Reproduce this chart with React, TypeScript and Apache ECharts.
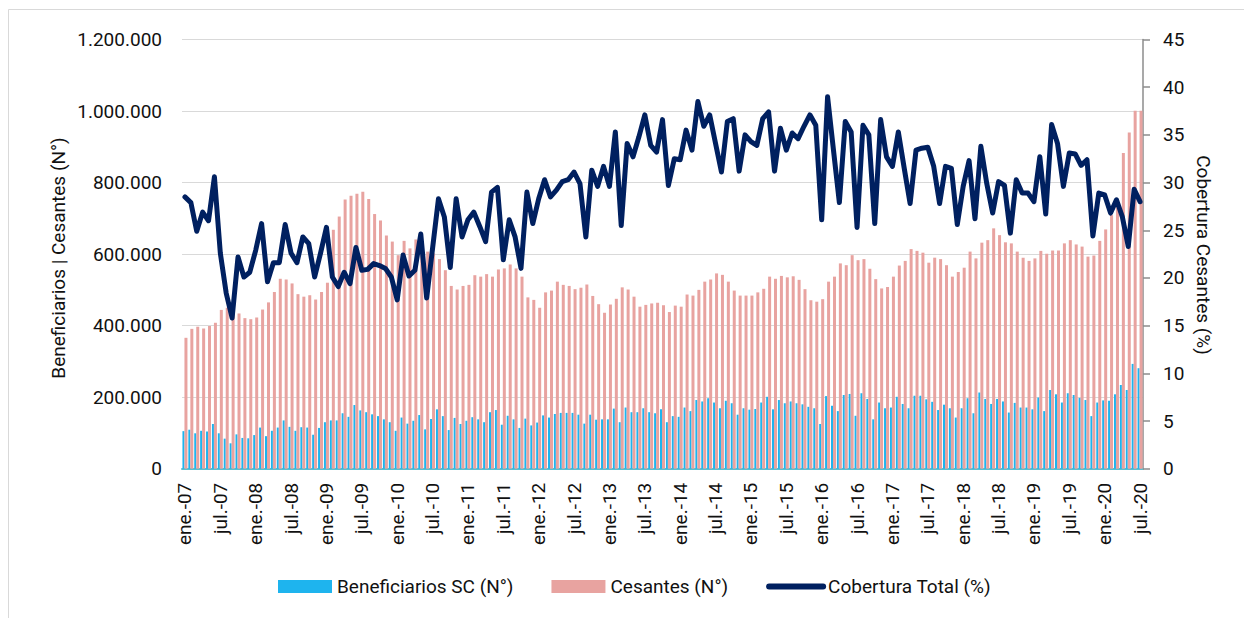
import React, { useEffect, useRef } from "react";
import * as echarts from "echarts";

const MONTHS = ["ene.", "feb.", "mar.", "abr.", "may.", "jun.", "jul.", "ago.", "sept.", "oct.", "nov.", "dic."];
const YEARS = ["07", "08", "09", "10", "11", "12", "13", "14", "15", "16", "17", "18", "19", "20"];
const categories: string[] = [];
YEARS.forEach((y) => MONTHS.forEach((m) => categories.push(`${m}-${y}`)));
const CATS = categories.slice(0, 163); // ene.-07 .. jul.-20

// Beneficiarios SC (miles)
const beneficiarios = [
  105, 109, 99, 106, 104, 125, 99, 84, 71, 96, 86, 85,
  94, 115, 91, 106, 115, 135, 117, 106, 116, 115, 95, 114,
  130, 135, 135, 155, 145, 178, 163, 158, 152, 147, 138, 130,
  106, 143, 126, 134, 150, 110, 139, 166, 147, 108, 142, 125,
  134, 144, 138, 130, 158, 164, 123, 148, 138, 114, 140, 121,
  129, 149, 143, 153, 156, 156, 156, 151, 126, 151, 137, 138,
  138, 168, 130, 171, 158, 158, 169, 158, 155, 166, 130, 147,
  145, 171, 161, 192, 188, 197, 185, 169, 190, 183, 151, 169,
  165, 167, 185, 201, 166, 192, 183, 188, 183, 180, 173, 169,
  125, 203, 176, 161, 206, 209, 148, 211, 195, 138, 185, 169,
  171, 201, 181, 169, 204, 204, 194, 187, 164, 179, 169, 143,
  169, 197, 155, 213, 195, 181, 195, 188, 157, 184, 171, 171,
  166, 199, 161, 220, 208, 185, 211, 206, 198, 192, 147, 185,
  191, 190, 208, 234, 220, 293, 281,
];

// Cesantes (miles)
const cesantes = [
  366, 391, 397, 392, 399, 408, 444, 450, 434, 434, 421, 418,
  423, 445, 465, 494, 531, 529, 518, 488, 481, 485, 473, 494,
  520, 668, 705, 753, 763, 769, 774, 754, 712, 694, 652, 635,
  597, 637, 616, 641, 611, 607, 602, 586, 555, 511, 501, 511,
  514, 541, 537, 544, 537, 557, 560, 571, 560, 537, 479, 472,
  450, 493, 498, 523, 514, 511, 502, 506, 515, 483, 460, 436,
  459, 475, 507, 501, 481, 453, 458, 462, 464, 457, 438, 456,
  453, 487, 484, 500, 523, 529, 546, 542, 523, 498, 484, 484,
  484, 493, 503, 537, 531, 539, 535, 538, 528, 502, 471, 467,
  474, 523, 537, 574, 569, 597, 583, 586, 559, 530, 504, 508,
  537, 568, 581, 614, 609, 604, 576, 590, 586, 569, 537, 550,
  562, 607, 588, 632, 639, 672, 653, 633, 630, 607, 590, 581,
  588, 609, 601, 610, 610, 630, 639, 627, 621, 593, 596, 637,
  669, 709, 740, 883, 940, 1001, 1001,
];

// Cobertura Total (%)
const cobertura = [
  28.5, 27.9, 24.9, 26.9, 26.0, 30.6, 22.6, 18.4, 15.8, 22.2, 20.1, 20.6,
  22.9, 25.7, 19.6, 21.6, 21.6, 25.6, 22.6, 21.6, 24.3, 23.6, 20.1, 22.6,
  25.3, 20.1, 19.1, 20.6, 19.4, 23.2, 20.8, 20.9, 21.5, 21.3, 21.0, 20.1,
  17.7, 22.4, 20.2, 20.8, 24.6, 17.9, 23.1, 28.3, 26.4, 21.1, 28.3, 24.3,
  26.1, 26.9, 25.4, 23.8, 29.0, 29.5, 21.9, 26.1, 24.3, 21.0, 29.0, 25.7,
  28.3, 30.3, 28.5, 29.2, 30.1, 30.3, 31.1, 29.9, 24.3, 31.3, 29.6, 31.7,
  29.6, 35.3, 25.5, 34.1, 32.7, 34.8, 37.1, 33.9, 33.2, 36.6, 29.7, 32.5,
  32.4, 35.5, 33.4, 38.5, 35.9, 37.1, 34.1, 31.1, 36.4, 36.7, 31.2, 35.0,
  34.3, 33.9, 36.7, 37.4, 31.2, 35.7, 33.4, 35.2, 34.6, 35.9, 37.1, 36.0,
  26.1, 39.0, 33.4, 27.9, 36.4, 35.3, 25.3, 36.0, 35.0, 25.7, 36.6, 32.7,
  31.7, 35.3, 31.5, 27.8, 33.4, 33.6, 33.7, 31.7, 27.8, 31.7, 31.5, 25.6,
  29.6, 32.3, 26.2, 33.8, 29.9, 26.8, 30.1, 29.7, 24.7, 30.3, 28.9, 28.9,
  28.0, 32.7, 26.7, 36.1, 34.1, 29.6, 33.1, 33.0, 31.8, 32.4, 24.4, 28.9,
  28.7, 26.8, 28.2, 26.4, 23.3, 29.3, 28.0,
];

const LEFT_TICKS = [0, 200000, 400000, 600000, 800000, 1000000, 1200000];
const RIGHT_TICKS = [0, 5, 10, 15, 20, 25, 30, 35, 40, 45];

const FONT = "Roboto";
const TXT = "#111111";
const NAVY = "#002060";

const fmtDots = (v: number) => String(v).replace(/\B(?=(\d{3})+(?!\d))/g, ".");

export default function App() {
  const ref = useRef<HTMLDivElement>(null);
  useEffect(() => {
    if (!ref.current) return;
    const chart = echarts.init(ref.current, null, { renderer: "svg" });
    chart.setOption({
      animation: false,
      backgroundColor: "#ffffff",
      textStyle: { fontFamily: FONT },
      grid: { left: 182, right: 101, top: 39.5, bottom: 149.3, containLabel: false },
      legend: {
        left: 273,
        top: 572,
        itemWidth: 54,
        itemHeight: 13,
        itemGap: 38,
        textStyle: { fontSize: 19, fontFamily: FONT, color: TXT },
        data: [
          { name: "Beneficiarios SC (N°)", icon: "rect" },
          { name: "Cesantes (N°)", icon: "rect" },
          {
            name: "Cobertura Total (%)",
            itemStyle: { color: "rgba(0,0,0,0)", borderWidth: 0, opacity: 0 },
            lineStyle: { color: NAVY, width: 6, cap: "round" },
          },
        ],
      },
      xAxis: {
        type: "category",
        data: CATS,
        boundaryGap: true,
        axisLine: { show: true, lineStyle: { color: "#5BBFCF", width: 2 } },
        axisTick: { show: false },
        axisLabel: {
          interval: 5,
          rotate: 90,
          margin: 14,
          fontSize: 19,
          fontFamily: FONT,
          color: TXT,
        },
        splitLine: { show: false },
      },
      yAxis: [
        {
          type: "value",
          min: LEFT_TICKS[0],
          max: LEFT_TICKS[LEFT_TICKS.length - 1],
          interval: LEFT_TICKS[1] - LEFT_TICKS[0],
          axisLine: { show: false },
          axisTick: { show: false },
          axisLabel: {
            margin: 20,
            fontSize: 19,
            fontFamily: FONT,
            color: TXT,
            formatter: (v: number) => fmtDots(v),
          },
          splitLine: { show: true, lineStyle: { color: "#D9D9D9", width: 1.2 } },
        },
        {
          type: "value",
          position: "right",
          min: RIGHT_TICKS[0],
          max: RIGHT_TICKS[RIGHT_TICKS.length - 1],
          interval: RIGHT_TICKS[1] - RIGHT_TICKS[0],
          axisLine: { show: true, lineStyle: { color: "#8C8C8C", width: 1.5 } },
          axisTick: { show: true, inside: false, length: 7, lineStyle: { color: "#8C8C8C", width: 1.5 } },
          axisLabel: { margin: 20, fontSize: 19, fontFamily: FONT, color: TXT },
          splitLine: { show: false },
        },
      ],
      series: [
        {
          name: "Beneficiarios SC (N°)",
          type: "bar",
          yAxisIndex: 0,
          data: beneficiarios.map((v) => v * 1000),
          itemStyle: { color: "#1EB4EE" },
          barWidth: 2,
          barGap: "0%",
        },
        {
          name: "Cesantes (N°)",
          type: "bar",
          yAxisIndex: 0,
          data: cesantes.map((v) => v * 1000),
          itemStyle: { color: "#E8A3A0" },
          barWidth: 3,
        },
        {
          name: "Cobertura Total (%)",
          type: "line",
          yAxisIndex: 1,
          data: cobertura,
          symbol: "none",
          z: 5,
          itemStyle: { color: NAVY },
          lineStyle: { color: NAVY, width: 5, join: "round", cap: "round" },
        },
      ],
      graphic: [
        {
          type: "rect",
          silent: true,
          shape: { x: 8.5, y: 9.5, width: 1240, height: 700 },
          style: { fill: "none", stroke: "#D9D9D9", lineWidth: 1 },
        },
        {
          type: "text",
          x: 58,
          y: 258,
          rotation: Math.PI / 2,
          style: {
            text: "Beneficiarios | Cesantes (N°)",
            fontSize: 19,
            fontFamily: FONT,
            fill: TXT,
            align: "center",
            verticalAlign: "middle",
            textAlign: "center",
            textVerticalAlign: "middle",
          },
        },
        {
          type: "text",
          x: 1203,
          y: 255,
          rotation: -Math.PI / 2,
          style: {
            text: "Cobertura Cesantes (%)",
            fontSize: 19,
            fontFamily: FONT,
            fill: TXT,
            align: "center",
            verticalAlign: "middle",
            textAlign: "center",
            textVerticalAlign: "middle",
          },
        },
      ],
    });
    return () => chart.dispose();
  }, []);
  return (
    <div
      ref={ref}
      style={{ position: "absolute", left: 0, top: 0, width: 1244, height: 618 }}
    />
  );
}
